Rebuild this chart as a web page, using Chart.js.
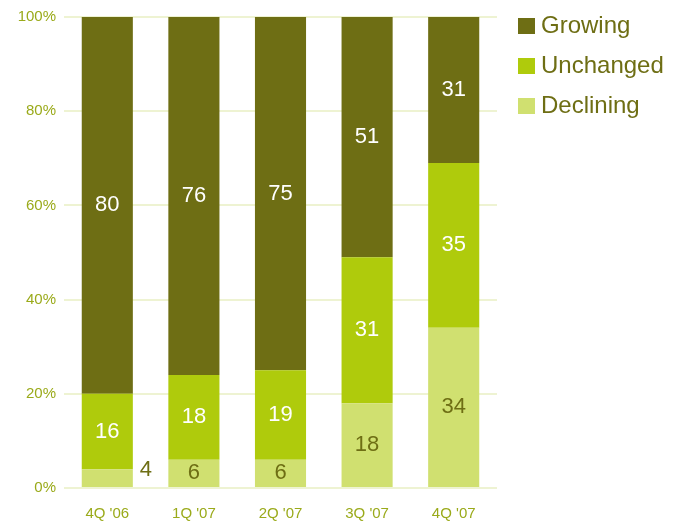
<!DOCTYPE html>
<html>
<head>
<meta charset="utf-8">
<script src="https://cdn.jsdelivr.net/npm/chart.js@4/dist/chart.umd.min.js"></script>
<style>
  html, body { margin: 0; padding: 0; background: #ffffff; }
  #wrap { width: 682px; height: 522px; position: relative; }
</style>
</head>
<body>
<div id="wrap"><canvas id="c"></canvas></div>
<script>
// Quarterly share of respondents (%)
const quarters = ["4Q '06", "1Q '07", "2Q '07", "3Q '07", "4Q '07"];
const declining = [4, 6, 6, 18, 34];
const unchanged = [16, 18, 19, 31, 35];
const growing = [80, 76, 75, 51, 31];
const yTicks = [0, 20, 40, 60, 80, 100];

const FONT = '"Liberation Sans", Arial, sans-serif';
const COLORS = {
  growing: '#6e6e14',
  unchanged: '#afcb0c',
  declining: '#d0e070',
  tick: '#9aaa1a',
  grid: '#eef3d2',
  legendText: '#6e6e14'
};

// Value labels inside each bar segment; tiny segments get their label beside the bar
const valueLabels = {
  id: 'valueLabels',
  afterDatasetsDraw(chart) {
    const ctx = chart.ctx;
    ctx.save();
    ctx.font = '22px ' + FONT;
    ctx.textBaseline = 'middle';
    chart.data.datasets.forEach((ds, di) => {
      const meta = chart.getDatasetMeta(di);
      meta.data.forEach((bar, i) => {
        const v = ds.data[i];
        const top = Math.min(bar.y, bar.base);
        const h = Math.abs(bar.base - bar.y);
        ctx.fillStyle = ds.labelColor;
        if (h < 24) {
          ctx.textAlign = 'left';
          ctx.fillText(String(v), bar.x + bar.width / 2 + 7, top + h / 2 - 8);
        } else {
          ctx.textAlign = 'center';
          ctx.fillText(String(v), bar.x, top + h / 2);
        }
      });
    });
    ctx.restore();
  }
};

// Legend to the right of the plot, top series first
const sideLegend = {
  id: 'sideLegend',
  afterDraw(chart) {
    const ctx = chart.ctx;
    const area = chart.chartArea;
    const x0 = area.right + 21;
    const items = chart.data.datasets.slice().reverse();
    ctx.save();
    ctx.font = '24px ' + FONT;
    ctx.textBaseline = 'middle';
    ctx.textAlign = 'left';
    items.forEach((ds, k) => {
      const cy = area.top + 9 + k * 40;
      ctx.fillStyle = ds.backgroundColor;
      ctx.fillRect(x0, cy - 8, 17, 16);
      ctx.fillStyle = COLORS.legendText;
      ctx.fillText(ds.label, x0 + 23, cy);
    });
    ctx.restore();
  }
};

new Chart(document.getElementById('c'), {
  type: 'bar',
  data: {
    labels: quarters,
    datasets: [
      { label: 'Declining', data: declining, backgroundColor: COLORS.declining, labelColor: '#6e6e14' },
      { label: 'Unchanged', data: unchanged, backgroundColor: COLORS.unchanged, labelColor: '#ffffff' },
      { label: 'Growing', data: growing, backgroundColor: COLORS.growing, labelColor: '#ffffff' }
    ]
  },
  options: {
    responsive: true,
    maintainAspectRatio: false,
    animation: false,
    layout: { padding: { top: 8, right: 185, left: 0, bottom: 0 } },
    datasets: { bar: { categoryPercentage: 1.0, barPercentage: 0.59 } },
    scales: {
      x: {
        stacked: true,
        grid: { display: false, drawTicks: false },
        border: { display: false },
        afterFit(scale) { scale.height = 34; },
        ticks: {
          color: COLORS.tick,
          padding: 17,
          font: { family: FONT, size: 15 }
        }
      },
      y: {
        stacked: true,
        min: 0,
        max: 100,
        afterBuildTicks(axis) { axis.ticks = yTicks.map(v => ({ value: v })); },
        afterFit(scale) { scale.width = 64; },
        grid: { color: COLORS.grid, lineWidth: 2, drawTicks: false },
        border: { display: false },
        ticks: {
          color: COLORS.tick,
          padding: 8,
          font: { family: FONT, size: 15 },
          callback: v => v + '%'
        }
      }
    },
    plugins: {
      tooltip: { enabled: false },
      legend: { display: false }
    }
  },
  plugins: [valueLabels, sideLegend]
});
</script>
</body>
</html>
